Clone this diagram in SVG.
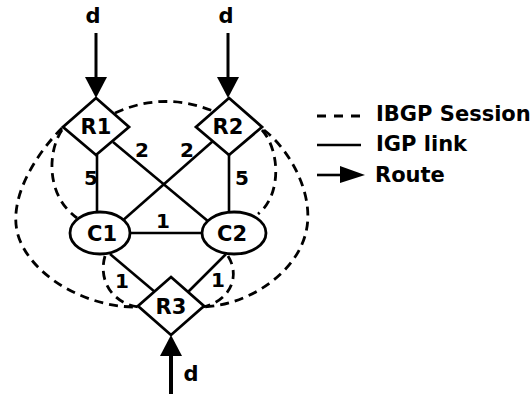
<svg xmlns="http://www.w3.org/2000/svg" width="531" height="394" viewBox="0 0 531 394">
<style>
.shape{fill:#fff;stroke:#000;stroke-width:2.8}
.link{stroke:#000;stroke-width:2.6;fill:none}
.ibgp{stroke:#000;stroke-width:2.8;fill:none;stroke-dasharray:9 6}
.route{stroke:#000;stroke-width:3;fill:none}
text{font-family:"DejaVu Sans","Liberation Sans",sans-serif;font-weight:bold;font-size:21px;fill:#000}
.c{text-anchor:middle}
.lbl{font-size:20px}
</style>
<rect width="531" height="394" fill="#fff"/>
<g id="connectors">
<line class="link" x1="97" y1="155" x2="97" y2="212"/>
<line class="link" x1="229" y1="155" x2="229" y2="212"/>
<line class="link" x1="113" y1="142" x2="209" y2="222"/>
<line class="link" x1="213" y1="141" x2="121" y2="222"/>
<line class="link" x1="130" y1="233" x2="202" y2="233"/>
<line class="link" x1="110" y1="254" x2="155" y2="292"/>
<line class="link" x1="226" y1="254" x2="188" y2="292"/>
<path class="ibgp" d="M115,113 Q163,91 213,111"/>
<path class="ibgp" d="M62,130 C48,150 45,195 77,218"/>
<path class="ibgp" d="M62,128 C35,155 3,205 21,243 C38,280 90,308 138,307"/>
<path class="ibgp" d="M105,256 C98,280 112,303 138,307"/>
<path class="ibgp" d="M262,130 C280,150 282,195 258,214"/>
<path class="ibgp" d="M264,130 C290,150 315,195 306,232 C297,272 250,305 203,307"/>
<path class="ibgp" d="M228,256 C240,275 232,300 203,307"/>
<line class="route" x1="96" y1="33" x2="96" y2="80"/>
<polygon points="85,77 107,77 96,98"/>
<line class="route" x1="228" y1="33" x2="228" y2="80"/>
<polygon points="217,77 239,77 228,98"/>
<line class="route" x1="171" y1="394" x2="171" y2="352" style="stroke-width:4"/>
<polygon points="160,356 182,356 171,335"/>
<text class="c" x="93" y="23">d</text>
<text class="c" x="226" y="23">d</text>
<text class="c" x="191" y="381">d</text>
<text class="c lbl" x="91" y="185">5</text>
<text class="c lbl" x="242" y="185">5</text>
<text class="c lbl" x="142" y="157">2</text>
<text class="c lbl" x="187" y="157">2</text>
<text class="c lbl" x="163" y="228">1</text>
<text class="c lbl" x="122" y="288">1</text>
<text class="c lbl" x="218" y="287">1</text>
</g>
<g id="R1"><polygon class="shape" points="96,98 129,127 96,155 63,127"/><text class="c" x="96" y="134">R1</text></g>
<g id="R2"><polygon class="shape" points="229,98 262,127 229,155 196,127"/><text class="c" x="228" y="134">R2</text></g>
<g id="C1"><ellipse class="shape" cx="100" cy="233" rx="30" ry="21"/><text class="c" x="102" y="241">C1</text></g>
<g id="C2"><ellipse class="shape" cx="234" cy="233" rx="32" ry="21"/><text class="c" x="232" y="241">C2</text></g>
<g id="R3"><polygon class="shape" points="171,277 204,306 171,335 138,306"/><text class="c" x="171" y="314">R3</text></g>
<g id="legend">
<line class="ibgp" x1="317" y1="116" x2="362" y2="116" style="stroke-dasharray:9 8"/>
<text x="376" y="121">IBGP Session</text>
<line class="link" x1="317" y1="145" x2="361" y2="145"/>
<text x="376" y="151">IGP link</text>
<line class="link" x1="317" y1="175" x2="345" y2="175"/>
<polygon points="340,166 365,175 340,183"/>
<text x="375" y="182">Route</text>
</g>
</svg>
